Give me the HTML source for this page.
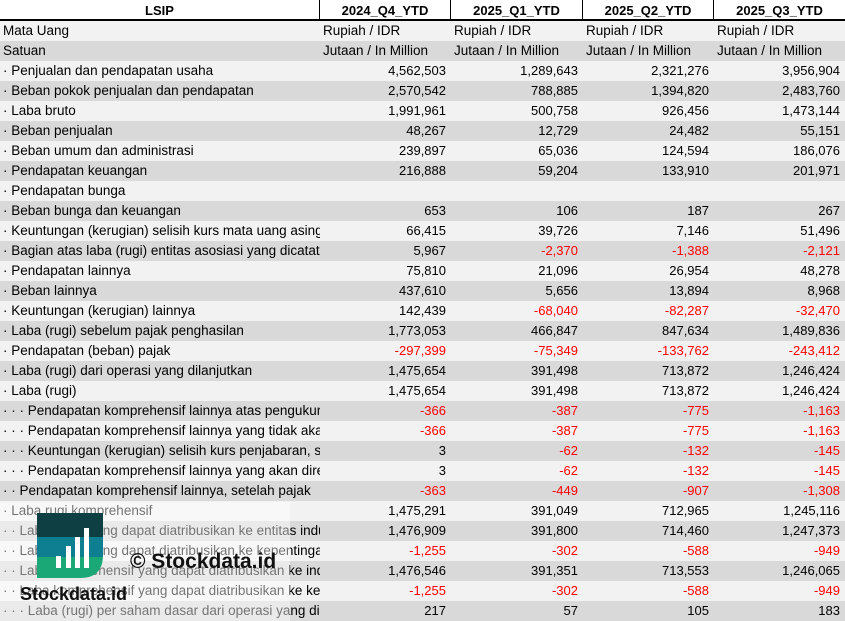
<!DOCTYPE html>
<html><head><meta charset="utf-8"><style>
body{margin:0;width:845px;height:621px;overflow:hidden;background:#fff;font-family:"Liberation Sans",Arial,sans-serif;font-size:13.5px;color:#000;position:relative}
.row{position:absolute;left:0;width:845px;height:20px}
.c{position:absolute;top:0;height:20px;line-height:20px;overflow:hidden;white-space:nowrap;box-sizing:border-box}
.c0{left:0;width:320px;padding-left:3px}
.num{text-align:right;padding-right:5px;font-size:13px}
.neg{color:#f00}
.hdr{font-weight:bold;text-align:center;border-right:1px solid #000;font-size:13px}
</style></head><body>
<div id="tbl"></div>
<svg id="wm" width="845" height="621" style="position:absolute;left:0;top:0;pointer-events:none">
<rect x="0" y="502" width="290" height="119" fill="#fff" opacity="0.45"/>
<defs><clipPath id="lg"><path d="M37 513 H103 V555 Q103 578 80 578 H37 Z"/></clipPath></defs>
<g clip-path="url(#lg)"><rect x="37" y="513" width="66" height="24" fill="#0e3f42"/><rect x="37" y="537" width="66" height="20" fill="#0d7f91"/><rect x="37" y="557" width="66" height="21" fill="#1aa877"/></g>
<rect x="56" y="556" width="5" height="12" fill="#fff"/><rect x="66" y="546" width="5" height="22" fill="#fff"/><rect x="75" y="537" width="5" height="31" fill="#fff"/><rect x="84" y="528" width="5" height="40" fill="#fff"/>
<text x="130" y="568" font-family="Liberation Sans" font-weight="bold" font-size="21" fill="#111">© Stockdata.id</text>
<text x="20" y="600" font-family="Liberation Sans" font-weight="bold" font-size="18" fill="#111">Stockdata.id</text>
</svg>
<script>
const headers=["LSIP","2024_Q4_YTD","2025_Q1_YTD","2025_Q2_YTD","2025_Q3_YTD"];
const labels=["Mata Uang","Satuan","· Penjualan dan pendapatan usaha","· Beban pokok penjualan dan pendapatan","· Laba bruto","· Beban penjualan","· Beban umum dan administrasi","· Pendapatan keuangan","· Pendapatan bunga","· Beban bunga dan keuangan","· Keuntungan (kerugian) selisih kurs mata uang asing","· Bagian atas laba (rugi) entitas asosiasi yang dicatat","· Pendapatan lainnya","· Beban lainnya","· Keuntungan (kerugian) lainnya","· Laba (rugi) sebelum pajak penghasilan","· Pendapatan (beban) pajak","· Laba (rugi) dari operasi yang dilanjutkan","· Laba (rugi)","· · · Pendapatan komprehensif lainnya atas pengukuran","· · · Pendapatan komprehensif lainnya yang tidak akan","· · · Keuntungan (kerugian) selisih kurs penjabaran, setelah","· · · Pendapatan komprehensif lainnya yang akan direklasifikasi","· · Pendapatan komprehensif lainnya, setelah pajak","· Laba rugi komprehensif","· · Laba (rugi) yang dapat diatribusikan ke entitas induk","· · Laba (rugi) yang dapat diatribusikan ke kepentingan","· · Laba komprehensif yang dapat diatribusikan ke induk","· · Laba komprehensif yang dapat diatribusikan ke kepentingan","· · · Laba (rugi) per saham dasar dari operasi yang dilanjutkan"];
const q4_2024=["Rupiah / IDR","Jutaan / In Million","4,562,503","2,570,542","1,991,961","48,267","239,897","216,888","","653","66,415","5,967","75,810","437,610","142,439","1,773,053","-297,399","1,475,654","1,475,654","-366","-366","3","3","-363","1,475,291","1,476,909","-1,255","1,476,546","-1,255","217"];
const q1_2025=["Rupiah / IDR","Jutaan / In Million","1,289,643","788,885","500,758","12,729","65,036","59,204","","106","39,726","-2,370","21,096","5,656","-68,040","466,847","-75,349","391,498","391,498","-387","-387","-62","-62","-449","391,049","391,800","-302","391,351","-302","57"];
const q2_2025=["Rupiah / IDR","Jutaan / In Million","2,321,276","1,394,820","926,456","24,482","124,594","133,910","","187","7,146","-1,388","26,954","13,894","-82,287","847,634","-133,762","713,872","713,872","-775","-775","-132","-132","-907","712,965","714,460","-588","713,553","-588","105"];
const q3_2025=["Rupiah / IDR","Jutaan / In Million","3,956,904","2,483,760","1,473,144","55,151","186,076","201,971","","267","51,496","-2,121","48,278","8,968","-32,470","1,489,836","-243,412","1,246,424","1,246,424","-1,163","-1,163","-145","-145","-1,308","1,245,116","1,247,373","-949","1,246,065","-949","183"];
const cols=[q4_2024,q1_2025,q2_2025,q3_2025];
const lefts=[0,320,451,583,714,845];
const t=document.getElementById('tbl');
const h=document.createElement('div');h.className='row';h.style.top='0px';h.style.borderBottom='2px solid #000';h.style.height='19px';


headers.forEach((x,i)=>{const d=document.createElement('div');d.className='c hdr';d.style.left=lefts[i]+'px';d.style.width=(lefts[i+1]-lefts[i])+'px';d.style.height='19px';d.style.lineHeight='21px';if(i==4)d.style.borderRight='none';d.textContent=x;


h.appendChild(d);});
t.appendChild(h);
labels.forEach((lab,r)=>{const row=document.createElement('div');row.className='row';row.style.top=(21+r*20)+'px';row.style.background=r%2? '#d9d9d9':'#f2f2f2';


const c0=document.createElement('div');c0.className='c c0';c0.textContent=lab;


row.appendChild(c0);
cols.forEach((col,i)=>{const d=document.createElement('div');const v=col[r];d.className='c'+(r<2?'':' num')+(v.startsWith('-')?' neg':'');d.style.left=lefts[i+1]+'px';d.style.width=(lefts[i+2]-lefts[i+1])+'px';if(r<2)d.style.paddingLeft='3px';d.textContent=v;


row.appendChild(d);});
t.appendChild(row);});
</script>
</body></html>
